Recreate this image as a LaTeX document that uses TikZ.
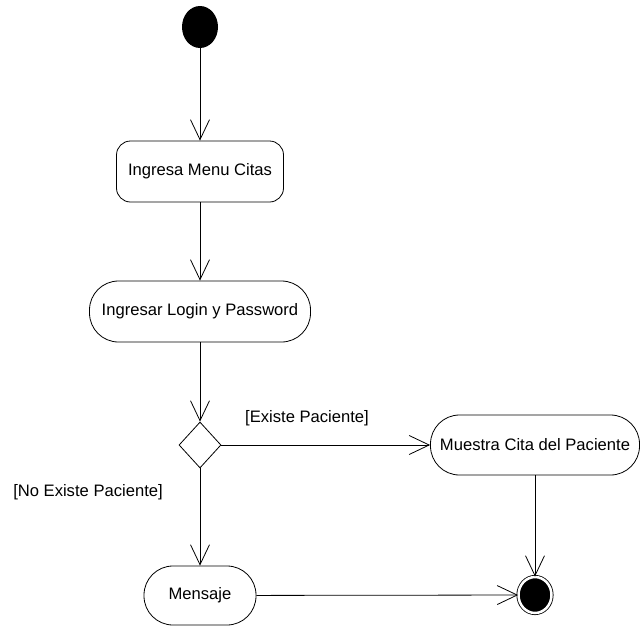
\documentclass[tikz,border=0pt]{standalone}
\usepackage{fontspec}
\setmainfont{Liberation Sans}
\usepackage{tikz}
\usetikzlibrary{positioning}
\usetikzlibrary{arrows.meta}
\usetikzlibrary{shapes.geometric}

\begin{document}
\begin{tikzpicture}[-> , >={Straight Barb[length=20pt,width=19pt]}, line width =0.8 pt,
        font=\fontsize{16.6pt}{19pt}\selectfont,
        act/.style={draw, rectangle, rounded corners=29pt, minimum height=60pt, inner sep=0pt},
        guard/.style={inner sep=0pt}]
            \useasboundingbox (0,0) rectangle (641pt,-627pt);
            \node [ellipse, fill=black, minimum width=36pt, minimum height=42pt, inner sep=0pt] (zero) at (200pt,-27pt) {};
            \node [act, rounded corners=14pt, minimum width=167pt, minimum height=61pt, below of=zero, node distance=144.5pt] (menu) {Ingresa Menu Citas};
            \node [act, minimum width=221pt, minimum height=61pt, below of=menu, node distance=140pt] (login) {Ingresar Login y Password};
            \node [diamond, draw, minimum width=42pt, minimum height=46pt, inner sep=0pt, below of=login, node distance=133.5pt] (choice) {};
            \node [act, minimum width=209pt, right of=choice, node distance=335pt] (show) {Muestra Cita del Paciente};
            \node [act, minimum width=112pt, minimum height=59pt, below of=choice, node distance=150.5pt] (msg) {Mensaje};
            \node [ellipse, draw, fill=black, double=white, double distance=2.5pt, minimum width=33pt, minimum height=36pt, inner sep=0pt, below of=show, node distance=150pt] (end) {};

            \node [guard, right of=choice, node distance=107pt, yshift=27pt] (yes) {[Existe Paciente]};
            \node [guard, left of=choice, node distance=112pt, yshift=-47pt] (no) {[No Existe Paciente]};

            \path (zero) edge (menu);
            \path (menu) edge (login);
            \path (login) edge (choice);
            \path (choice) edge (show);
            \path (choice) edge (msg);
            \path (show) edge (end);
            \path (msg) edge (end);
        \end{tikzpicture}
\end{document}
